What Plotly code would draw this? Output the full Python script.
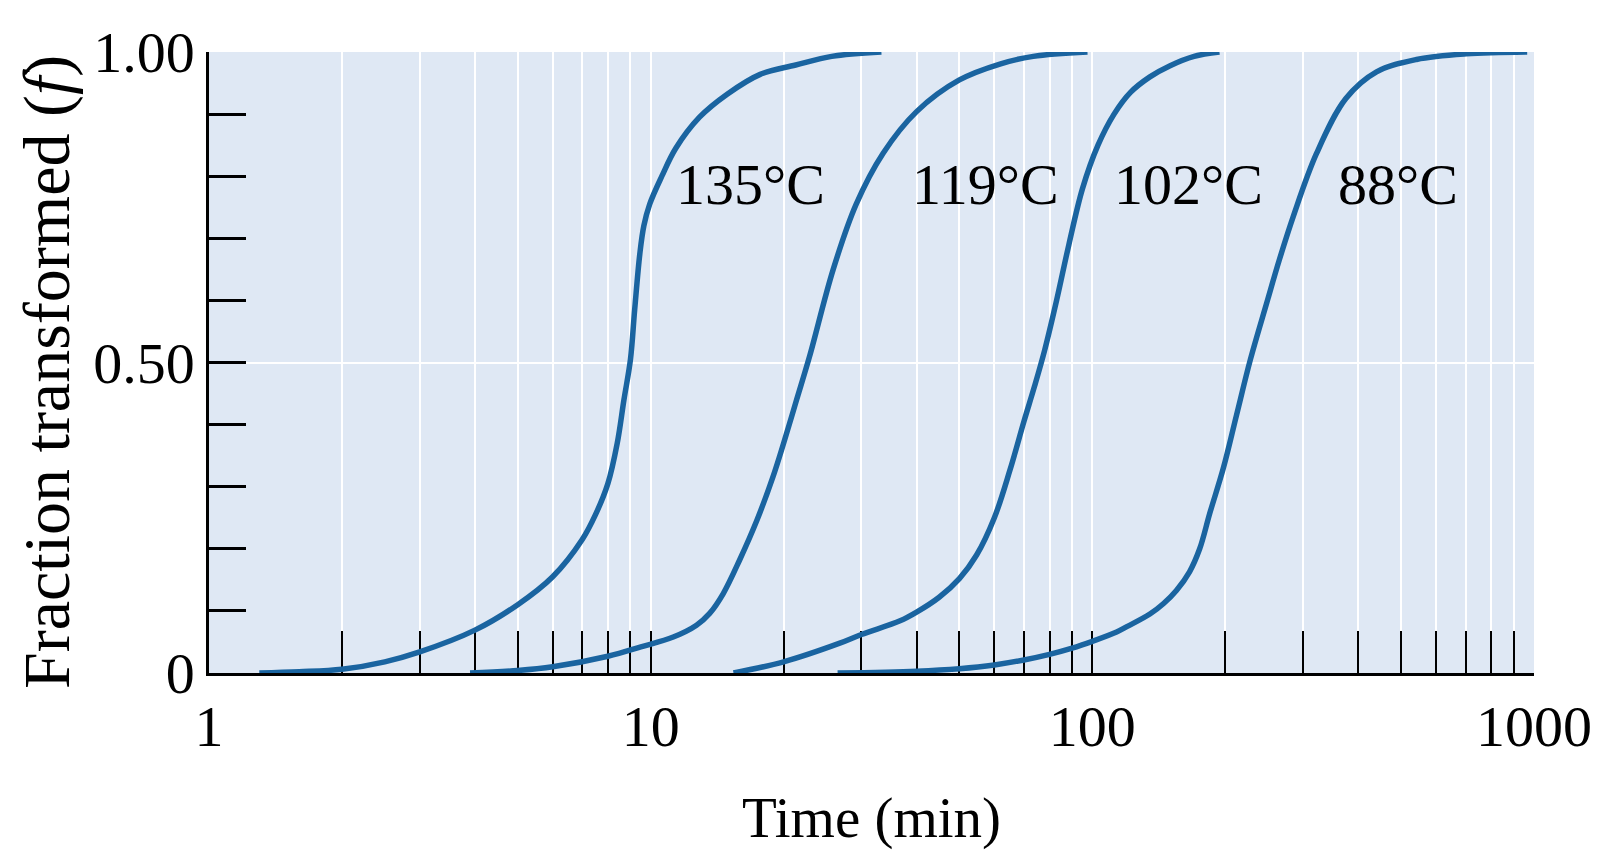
import math
import plotly.graph_objects as go

# ---------------- data ----------------
t_135 = [1.3, 1.6, 2.0, 2.5, 3.0, 4.0, 5.0, 6.0, 7.0, 7.5, 8.0, 8.4, 8.7, 9.0, 9.2, 9.45,
         9.65, 9.95, 10.6, 11.4, 12.9, 14.9, 17.7, 21.3, 25.7, 33.3]
f_135 = [0.0, 0.002, 0.006, 0.018, 0.034, 0.069, 0.11, 0.155, 0.215, 0.255, 0.305, 0.37,
         0.44, 0.505, 0.585, 0.675, 0.72, 0.755, 0.80, 0.845, 0.895, 0.932, 0.964, 0.979,
         0.993, 1.0]

t_119 = [3.9, 5.0, 6.0, 8.0, 9.5, 11.25, 12.7, 13.6, 14.6, 15.9, 17.4, 18.9, 20.0, 21.4,
         22.9, 25.9, 29.2, 33.6, 40.0, 50.0, 62.0, 73.5, 97.5]
f_119 = [0.0, 0.004, 0.01, 0.027, 0.042, 0.058, 0.077, 0.096, 0.128, 0.182, 0.246, 0.315,
         0.37, 0.44, 0.51, 0.65, 0.755, 0.837, 0.904, 0.955, 0.981, 0.993, 1.0]

t_102 = [15.4, 20.0, 26.8, 30.0, 36.7, 40.0, 45.0, 50.0, 54.7, 60.0, 65.1, 70.0, 74.0,
         78.0, 83.0, 88.5, 95.0, 103.0, 112.0, 122.0, 135.0, 150.0, 170.0, 194.0]
f_102 = [0.0, 0.018, 0.048, 0.062, 0.084, 0.098, 0.122, 0.152, 0.19, 0.25, 0.327, 0.405,
         0.462, 0.52, 0.60, 0.69, 0.78, 0.85, 0.90, 0.935, 0.96, 0.978, 0.993, 1.0]

t_88 = [26.5, 40.0, 50.0, 60.0, 70.0, 80.0, 90.0, 100.0, 113.5, 120.0, 135.0, 145.0, 155.0,
        166.0, 175.0, 184.6, 198.0, 212.0, 228.0, 248.0, 265.0, 285.0, 322.0, 375.0, 440.0,
        542.0, 703.0, 965.0]
f_88 = [0.0, 0.003, 0.007, 0.013, 0.021, 0.03, 0.04, 0.051, 0.066, 0.075, 0.095, 0.112,
        0.133, 0.163, 0.20, 0.258, 0.33, 0.415, 0.505, 0.595, 0.665, 0.735, 0.837, 0.925,
        0.968, 0.988, 0.997, 1.0]

series = [("135°C", t_135, f_135), ("119°C", t_119, f_119),
          ("102°C", t_102, f_102), ("88°C", t_88, f_88)]

# label anchor points (data coordinates: time in min, fraction)
label_x = [16.8, 57.4, 165.5, 492.0]
label_y = [0.787, 0.787, 0.787, 0.787]

x_tickvals = [1, 2, 3, 4, 5, 6, 7, 8, 9, 10, 20, 30, 40, 50, 60, 70, 80, 90, 100,
              200, 300, 400, 500, 600, 700, 800, 900, 1000]
x_ticklabels = {1: "1", 10: "10", 100: "100", 1000: "1000"}
y_tickvals = [0, 0.5, 1.0]
y_ticktext = ["0", "0.50", "1.00"]

x_title = "Time (min)"
y_title = "Fraction transformed (<i>f</i>)"

# ---------------- figure ----------------
FONT = "Liberation Serif, Times New Roman, serif"
CURVE = "#1a64a0"

fig = go.Figure()
for name, t, f in series:
    fig.add_trace(go.Scatter(x=t, y=f, mode="lines", name=name,
                             line=dict(color=CURVE, width=5.5, shape="spline", smoothing=1.0),
                             showlegend=False, hoverinfo="skip"))

for (name, _, _), lx, ly in zip(series, label_x, label_y):
    # annotations on a log axis take log10 of the value
    fig.add_annotation(x=math.log10(lx), y=ly, xref="x", yref="y", text=name, showarrow=False,
                       font=dict(family=FONT, size=58, color="black"),
                       xanchor="center", yanchor="middle")

# y-axis title placed as a rotated annotation for exact positioning
fig.add_annotation(x=-0.1222, y=0.485, xref="paper", yref="paper", text=y_title,
                   showarrow=False, textangle=-90,
                   font=dict(family=FONT, size=66, color="black"),
                   xanchor="center", yanchor="middle")

# the page body adds an 8px margin, so the figure is 16px smaller than the window
fig.update_layout(
    width=1584, height=842,
    margin=dict(l=201, r=58, t=44, b=177),
    paper_bgcolor="white",
    plot_bgcolor="#dfe8f4",
    font=dict(family=FONT, color="black"),
)

fig.update_xaxes(
    type="log", range=[0, 3], automargin=False,
    tickmode="array", tickvals=x_tickvals,
    ticktext=[x_ticklabels.get(v, "") for v in x_tickvals],
    ticks="inside", ticklen=42, tickwidth=2, tickcolor="black",
    ticklabelstandoff=0,
    tickfont=dict(family=FONT, size=58, color="black"),
    showgrid=True, gridcolor="white", gridwidth=1.6,
    showline=True, linecolor="black", linewidth=3, mirror=False,
    zeroline=False, layer="below traces",
    title=dict(text=x_title, font=dict(family=FONT, size=57, color="black"), standoff=42),
)

fig.update_yaxes(
    range=[0, 1], automargin=False,
    tickmode="array", tickvals=y_tickvals, ticktext=y_ticktext,
    ticks="inside", ticklen=37, tickwidth=2.5, tickcolor="black",
    ticklabelstandoff=0,
    tickfont=dict(family=FONT, size=58, color="black"),
    minor=dict(dtick=0.1, tick0=0, ticks="inside", ticklen=37, tickwidth=2.5,
               tickcolor="black", showgrid=False),
    showgrid=True, gridcolor="white", gridwidth=1.6,
    showline=True, linecolor="black", linewidth=2.5, mirror=False,
    zeroline=False, layer="below traces",
)

fig.write_html("out.html")
